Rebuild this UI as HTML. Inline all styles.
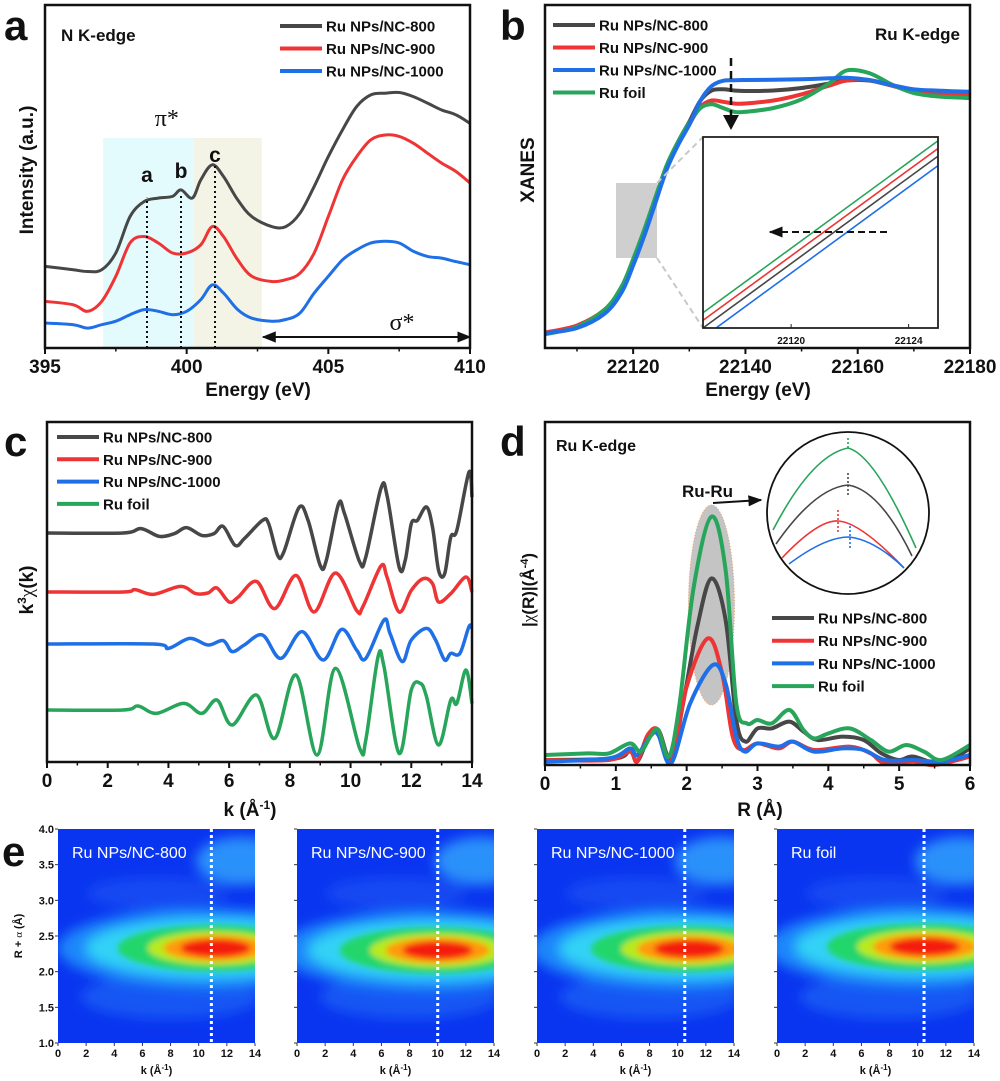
<!DOCTYPE html>
<html><head><meta charset="utf-8"><style>
html,body{margin:0;padding:0;background:#fff}
svg{display:block}
text{fill:#111}
</style></head><body>
<svg id="fig" width="1000" height="1081" viewBox="0 0 1000 1081" xmlns="http://www.w3.org/2000/svg">
<defs>
<filter id="blur6" x="-50%" y="-50%" width="200%" height="200%"><feGaussianBlur stdDeviation="6"/></filter>
<filter id="blur3" x="-50%" y="-50%" width="200%" height="200%"><feGaussianBlur stdDeviation="3"/></filter>
<marker id="arr" viewBox="0 0 10 10" refX="9" refY="5" markerWidth="7" markerHeight="7" orient="auto-start-reverse"><path d="M0,1 L10,5 L0,9 z" fill="#111"/></marker>
</defs>
</svg>
<script>
// ---------- DATA ----------
// panel a (N K-edge)
const aE800=[395,396,396.5,397,397.5,398,398.5,399,399.5,399.8,400.2,400.5,400.9,401.3,401.8,402.3,403,403.5,404,404.5,405,405.5,406,406.5,407,407.5,408,408.5,409,409.5,410];
const aI800=[0.238,0.228,0.223,0.228,0.277,0.383,0.427,0.437,0.442,0.461,0.437,0.490,0.534,0.500,0.432,0.383,0.354,0.354,0.393,0.471,0.558,0.636,0.704,0.738,0.743,0.745,0.733,0.714,0.694,0.680,0.655];
const aE=[395,396,396.5,397,397.5,398,398.5,399,399.5,400,400.5,400.9,401.3,401.8,402.3,403,403.5,404,404.5,405,405.5,406,406.5,407,407.5,408,408.5,409,409.5,410];
const aI900=[0.136,0.126,0.107,0.136,0.209,0.306,0.325,0.306,0.277,0.277,0.301,0.354,0.325,0.257,0.209,0.194,0.199,0.218,0.277,0.383,0.490,0.558,0.607,0.621,0.617,0.597,0.568,0.539,0.515,0.481];
const aI1000=[0.073,0.068,0.058,0.068,0.078,0.097,0.112,0.107,0.097,0.107,0.141,0.184,0.160,0.112,0.087,0.078,0.083,0.102,0.160,0.209,0.257,0.286,0.306,0.311,0.306,0.282,0.267,0.262,0.252,0.243];
const aTicks=[395,400,405,410];
const aPeakE=[398.6,399.8,401.0];
const aPeakLbl=['a','b','c'];
// panel b (Ru K-edge XANES)
const bE=[22104.3,22110,22115,22118,22120,22122,22124,22126,22128,22130,22132,22134,22136,22138,22140,22145,22150,22155,22158,22162,22166,22170,22175,22180];
const b800=[0.059,0.085,0.150,0.240,0.350,0.470,0.600,0.730,0.825,0.905,0.990,1.030,1.035,1.030,1.028,1.030,1.040,1.058,1.070,1.070,1.050,1.030,1.022,1.018];
const b900=[0.062,0.090,0.155,0.245,0.352,0.472,0.602,0.728,0.820,0.895,0.965,0.990,0.985,0.978,0.978,0.990,1.015,1.050,1.070,1.072,1.050,1.025,1.015,1.010];
const b1000=[0.059,0.080,0.139,0.225,0.330,0.450,0.583,0.715,0.812,0.893,0.990,1.048,1.069,1.071,1.072,1.073,1.075,1.079,1.081,1.072,1.052,1.035,1.029,1.025];
const bFoil=[0.055,0.085,0.155,0.248,0.355,0.475,0.605,0.732,0.825,0.900,0.960,0.975,0.960,0.945,0.945,0.960,0.995,1.060,1.110,1.100,1.055,1.020,1.005,1.000];
const bTicks=[22120,22140,22160,22180];
const insE=[22117,22125];
const ins800=[0.00,0.90];
const ins900=[0.04,0.94];
const ins1000=[-0.05,0.85];
const insFoil=[0.08,0.98];
const insTicks=[22120,22124];
// panel c (k3 chi)
const c800k=[0,2.5,3.1,3.7,4.2,4.6,5.1,5.5,5.8,6.2,6.5,7.1,7.3,7.6,7.8,8.3,8.6,9.0,9.2,9.6,9.8,10.3,10.5,11.0,11.2,11.6,11.8,12.0,12.2,12.5,12.7,12.9,13.1,13.3,13.5,13.9,14];
const c800=[0,0,0.22,-0.17,-0.03,0.27,-0.12,-0.03,0.33,-0.62,-0.28,0.63,0.47,-1.12,-0.95,1.27,0.63,-1.62,-1.37,1.43,0.97,-1.45,-1.2,2.22,1.88,-1.7,-1.37,0.47,0.63,1.3,0.3,-1.87,-2.03,-0.2,0.13,3.05,1.8];
const c900k=[0,2.5,2.9,3.5,4.4,4.9,5.3,5.6,6.0,6.3,6.9,7.5,8.2,8.8,9.5,10.2,10.4,11.0,11.2,11.6,12.0,12.4,12.7,12.9,13.3,13.8,14];
const c900=[0,0,0.12,-0.12,0.28,-0.08,-0.05,0.2,-0.5,-0.25,0.53,-0.83,0.83,-1.0,0.95,-0.92,-0.75,1.3,0.75,-1.0,0.08,0.67,0.42,-0.5,-0.08,0.75,0];
const c1000k=[0,3.5,4.0,4.7,5.3,5.8,6.1,6.5,7.1,7.7,8.4,9.1,9.7,10.2,10.5,11.1,11.3,11.7,12.0,12.5,12.8,13.1,13.3,13.6,13.9,14];
const c1000=[0,0,-0.22,0.28,-0.05,0.17,-0.38,-0.05,0.45,-0.72,0.62,-0.8,0.73,-0.3,-0.72,1.2,0.53,-0.88,0.2,0.78,0.2,-0.8,-0.47,-0.47,0.87,0.78];
const cFoilk=[0,2.5,3.0,3.6,4.5,5.1,5.6,6.1,6.9,7.5,8.2,8.9,9.5,10.3,10.5,10.9,11.1,11.6,12.0,12.3,12.5,12.9,13.3,13.5,13.8,14];
const cFoil=[0,0,0.2,-0.17,0.33,-0.17,0.5,-0.75,0.75,-1.42,1.75,-2.25,2.08,-1.92,-1.5,2.63,2.17,-2.17,1.0,1.33,0.67,-1.75,0.5,0.33,2.0,0.33];
const cOffsets=[11.45,8.5,5.9,2.6];
const cTicks=[0,2,4,6,8,10,12,14];
// panel d (FT)
const dFoilR=[0,0.6,0.9,1.2,1.35,1.5,1.6,1.75,1.9,2.1,2.35,2.55,2.7,2.85,3.0,3.2,3.45,3.65,3.8,4.0,4.3,4.6,4.85,5.1,5.35,5.6,6.0];
const dFoil=[0.5,0.58,0.58,1.08,0.67,1.5,1.75,0.42,3.08,8.92,12.42,9.75,3.08,2.08,2.25,2.08,2.75,1.75,1.33,1.58,1.83,1.25,0.67,1.0,0.67,0.25,1.0];
const d800R=[0,1.0,1.2,1.3,1.45,1.6,1.78,1.95,2.15,2.35,2.55,2.7,2.83,3.0,3.2,3.45,3.65,3.85,4.2,4.5,4.75,5.0,5.2,5.6,6.0];
const d800=[0.25,0.33,0.75,0.17,1.25,1.75,0.25,3.08,6.92,9.33,7.25,2.25,1.17,1.83,1.83,2.17,1.67,1.25,1.42,1.25,0.58,0.25,0.42,0.08,0.83];
const d900R=[0,0.9,1.2,1.3,1.45,1.6,1.78,2.0,2.3,2.5,2.65,2.8,3.0,3.3,3.5,3.8,4.3,4.6,4.8,5.2,5.5,6.0];
const d900=[0.25,0.25,0.67,0.17,1.5,1.75,0.17,3.92,6.33,4.58,1.42,0.75,1.08,0.83,1.17,0.75,0.92,0.58,0.08,0.17,0,0.42];
const d1000R=[0,0.9,1.2,1.3,1.5,1.6,1.78,2.05,2.37,2.55,2.7,2.82,3.0,3.3,3.5,3.8,4.2,4.5,4.8,5.2,5.6,6.0];
const d1000=[0.17,0.33,0.83,0.5,1.5,1.5,0.08,3.08,5.0,4.08,1.42,0.67,1.08,0.92,1.17,0.67,0.83,0.75,0.25,0.25,0.17,0.5];
const dTicks=[0,1,2,3,4,5,6];
// panel e (wavelet transforms)
const eNames=['Ru NPs/NC-800','Ru NPs/NC-900','Ru NPs/NC-1000','Ru foil'];
const ePeakK=[11.2,10.0,10.8,10.5];
const ePeakR=[2.33,2.3,2.32,2.35];
const eLineK=[10.9,10.0,10.5,10.45];
const eKTicks=[0,2,4,6,8,10,12,14];
const eRTicks=[1.0,1.5,2.0,2.5,3.0,3.5,4.0];

// ---------- HELPERS ----------
const NS='http://www.w3.org/2000/svg';
const svg=document.getElementById('fig');
function mk(tag,attrs,parent){const e=document.createElementNS(NS,tag);for(const k in attrs)e.setAttribute(k,attrs[k]);(parent||svg).appendChild(e);return e;}
function txt(s,x,y,size,anchor,parent,extra){const t=mk('text',Object.assign({x:x,y:y,'font-size':size,'text-anchor':anchor||'start','font-weight':'bold','font-family':'"Liberation Sans", Arial, sans-serif'},extra||{}),parent);t.textContent=s;return t;}
function scale(d0,d1,r0,r1){return v=>r0+(v-d0)/(d1-d0)*(r1-r0);}
function smooth(pts){let d='M'+pts[0][0].toFixed(1)+','+pts[0][1].toFixed(1);for(let i=0;i<pts.length-1;i++){const p0=pts[i-1]||pts[i],p1=pts[i],p2=pts[i+1],p3=pts[i+2]||p2;const c1=[p1[0]+(p2[0]-p0[0])/6,p1[1]+(p2[1]-p0[1])/6],c2=[p2[0]-(p3[0]-p1[0])/6,p2[1]-(p3[1]-p1[1])/6];d+=' C'+c1[0].toFixed(1)+','+c1[1].toFixed(1)+' '+c2[0].toFixed(1)+','+c2[1].toFixed(1)+' '+p2[0].toFixed(1)+','+p2[1].toFixed(1);}return d;}
function series(xs,ys,sx,sy,color,w,parent,name){const p=mk('path',{d:smooth(xs.map((x,i)=>[sx(x),sy(ys[i])])),fill:'none',stroke:color,'stroke-width':w,'stroke-linejoin':'round'},parent);


return p;}
const COL={k:'#474747',r:'#ee3434',b:'#1f6fe6',g:'#27a55a'};
function frame(x0,y0,x1,y1,name){const r=mk('rect',{x:x0,y:y0,width:x1-x0,height:y1-y0,fill:'none',stroke:'#111','stroke-width':2.5});


return r;}
function xTicks(vals,sx,y,size,minorStep,min,max,g,len){vals.forEach(v=>{mk('line',{x1:sx(v),x2:sx(v),y1:y,y2:y+(len||6),stroke:'#111','stroke-width':2},g);const t=txt(String(v),sx(v),y+size+6,size,'middle',g);

});
if(minorStep){for(let v=min;v<=max+1e-9;v+=minorStep){mk('line',{x1:sx(v),x2:sx(v),y1:y,y2:y+3.5,stroke:'#111','stroke-width':1.5},g);}}}
function legend(items,x,y,dy,g){items.forEach((it,i)=>{mk('line',{x1:x,x2:x+42,y1:y+i*dy,y2:y+i*dy,stroke:it[1],'stroke-width':4},g);const t=txt(it[0],x+46,y+i*dy+5.5,15,'start',g);

});}
const NAMES=['Ru NPs/NC-800','Ru NPs/NC-900','Ru NPs/NC-1000','Ru foil'];
const SERIF={'font-weight':'normal','font-family':'"Liberation Serif", serif'};

// ---------- PANEL A ----------
(function(){
const g=mk('g',{});
const sx=scale(395,410,45,470), sy=scale(0,1,348,5);
mk('rect',{x:sx(397.05),y:138,width:sx(400.25)-sx(397.05),height:348-138,fill:'#e4fbfd'},g);
mk('rect',{x:sx(400.25),y:138,width:sx(402.65)-sx(400.25),height:348-138,fill:'#f4f4e6'},g);
series(aE800,aI800,sx,sy,COL.k,3,g,'line-nc800');
series(aE,aI900,sx,sy,COL.r,3,g,'line-nc900');
series(aE,aI1000,sx,sy,COL.b,3,g,'line-nc1000');
const tops=[0.438,0.452,0.534];
aPeakE.forEach((e,i)=>{mk('line',{x1:sx(e),x2:sx(e),y1:348,y2:sy(tops[i]),stroke:'#111','stroke-width':2,'stroke-dasharray':'2,3'},g);
const t=txt(aPeakLbl[i],sx(e),[182,178,162][i],21,'middle',g);

});
txt('π*',sx(399.3),126,24,'middle',g,SERIF);
txt('σ*',sx(407.6),330,24,'middle',g,SERIF);
mk('line',{x1:sx(402.7),x2:sx(410),y1:337,y2:337,stroke:'#111','stroke-width':2,'marker-start':'url(#arr)','marker-end':'url(#arr)'},g);
frame(45,5,470,348,'plot-frame-a');
xTicks(aTicks,sx,348,19,2.5,395,410,g);
txt('Energy (eV)',258,396,19,'middle',g);
const yt=txt('Intensity (a.u.)',0,0,19,'middle',g,{transform:'translate(33,170) rotate(-90)'});

txt('N K-edge',61,41,17,'start',g);
legend([[NAMES[0],COL.k],[NAMES[1],COL.r],[NAMES[2],COL.b]],280,26,22.5,g);
txt('a',4,40,42,'start',g);
})();

// ---------- PANEL B ----------
(function(){
const g=mk('g',{});
const sx=scale(22104.3,22180,545,970), sy=scale(0,1,348,98);
mk('rect',{x:616,y:183,width:41,height:75,fill:'#cfcfcf'},g);
series(bE,b800,sx,sy,COL.k,4,g,'line-nc800');
series(bE,b900,sx,sy,COL.r,4,g,'line-nc900');
series(bE,bFoil,sx,sy,COL.g,4,g,'line-ru-foil');
series(bE,b1000,sx,sy,COL.b,4,g,'line-nc1000');
mk('line',{x1:657,y1:183,x2:703,y2:137,stroke:'#c8c8c8','stroke-width':2,'stroke-dasharray':'6,4'},g);
mk('line',{x1:657,y1:258,x2:703,y2:328,stroke:'#c8c8c8','stroke-width':2,'stroke-dasharray':'6,4'},g);
mk('line',{x1:731,y1:58,x2:731,y2:122,stroke:'#111','stroke-width':2.5,'stroke-dasharray':'8,5'},g);
mk('path',{d:'M723,115 L739,115 L731,130 z',fill:'#111'},g);
// inset
const ig=mk('g',{},g);
mk('rect',{x:703,y:137,width:235,height:191,fill:'#fff'},ig);
const cp=mk('clipPath',{id:'insclip'},ig);mk('rect',{x:703,y:137,width:235,height:191},cp);
const isx=scale(22117,22125,703,938), isy=scale(0,1,328,137);
const cg=mk('g',{'clip-path':'url(#insclip)'},ig);
[[ins1000,COL.b,'inset-line-nc1000'],[ins800,COL.k,'inset-line-nc800'],[ins900,COL.r,'inset-line-nc900'],[insFoil,COL.g,'inset-line-ru-foil']].forEach(s=>{const l=mk('line',{x1:isx(insE[0]),y1:isy(s[0][0]),x2:isx(insE[1]),y2:isy(s[0][1]),stroke:s[1],'stroke-width':1.6},cg);

});
mk('line',{x1:887,y1:232,x2:770,y2:232,stroke:'#111','stroke-width':2,'stroke-dasharray':'7,4','marker-end':'url(#arr)'},ig);
mk('rect',{x:703,y:137,width:235,height:191,fill:'none',stroke:'#222','stroke-width':1.8},ig);
insTicks.forEach(v=>{mk('line',{x1:isx(v),x2:isx(v),y1:328,y2:324,stroke:'#222'},ig);txt(String(v),isx(v),344,10,'middle',ig);});
frame(545,5,970,348,'plot-frame-b');
xTicks(bTicks,sx,348,19,10,22110,22180,g);
txt('Energy (eV)',758,396,19,'middle',g);
txt('XANES',0,0,19,'middle',g,{transform:'translate(534,170) rotate(-90)'});
txt('Ru K-edge',960,40,17,'end',g);
legend([[NAMES[0],COL.k],[NAMES[1],COL.r],[NAMES[2],COL.b],[NAMES[3],COL.g]],553,25,22.5,g);
txt('b',500,40,42,'start',g);
})();

// ---------- PANEL C ----------
(function(){
const g=mk('g',{});
const sx=scale(0,14,47,472), sy=scale(0,1,762,742);
const S=[[c800k,c800,COL.k,'line-nc800'],[c900k,c900,COL.r,'line-nc900'],[c1000k,c1000,COL.b,'line-nc1000'],[cFoilk,cFoil,COL.g,'line-ru-foil']];
S.forEach((s,i)=>series(s[0],s[1].map(v=>v+cOffsets[i]),sx,sy,s[2],3.5,g,s[3]));
frame(47,422,472,762,'plot-frame-c');
xTicks(cTicks,sx,762,19,1,0,14,g);
txt('',250,816,19,'middle',g).innerHTML='k (Å<tspan dy="-7" font-size="12">-1</tspan><tspan dy="7">)</tspan>';
txt('',0,0,19,'middle',g,{transform:'translate(33,590) rotate(-90)'}).innerHTML='k<tspan dy="-7" font-size="12">3</tspan><tspan dy="7" font-weight="normal" font-family="Liberation Serif, serif">χ</tspan>(k)';
legend([[NAMES[0],COL.k],[NAMES[1],COL.r],[NAMES[2],COL.b],[NAMES[3],COL.g]],57,437,22.3,g);
txt('c',4,456,42,'start',g);
})();

// ---------- PANEL D ----------
(function(){
const g=mk('g',{});
const sx=scale(0,6,545,970), sy=scale(0,1,765,745);
mk('ellipse',{cx:sx(2.35),cy:605,rx:23,ry:100,fill:'#c4c4c4',stroke:'#f0a060','stroke-width':1,'stroke-dasharray':'1,2'},g);
series(d800R,d800,sx,sy,COL.k,4,g,'line-nc800');
series(d900R,d900,sx,sy,COL.r,4,g,'line-nc900');
series(d1000R,d1000,sx,sy,COL.b,4,g,'line-nc1000');
series(dFoilR,dFoil,sx,sy,COL.g,4,g,'line-ru-foil');
const ig=mk('g',{},g);
mk('circle',{cx:848,cy:513,r:81,fill:'#fff',stroke:'#111','stroke-width':1.8},ig);
mk('path',{d:'M773,530 Q812,455 848,448 Q875,455 916,548',fill:'none',stroke:COL.g,'stroke-width':1.6},ig);
mk('path',{d:'M776,544 Q815,488 848,485 Q880,490 912,556',fill:'none',stroke:COL.k,'stroke-width':1.6},ig);
mk('path',{d:'M782,558 Q818,520 838,521 Q860,522 904,568',fill:'none',stroke:COL.r,'stroke-width':1.6},ig);
mk('path',{d:'M789,564 Q825,537 849,537 Q875,540 904,568',fill:'none',stroke:COL.b,'stroke-width':1.6},ig);
[[848,438,448,COL.g],[848,473,497,COL.k],[838,510,532,COL.r],[850,526,550,COL.b]].forEach(a=>mk('line',{x1:a[0],x2:a[0],y1:a[1],y2:a[2],stroke:a[3],'stroke-width':1.6,'stroke-dasharray':'2,2'},ig));
txt('Ru-Ru',682,497,17,'start',g);
mk('line',{x1:713,y1:503,x2:761,y2:500,stroke:'#111','stroke-width':2,'marker-end':'url(#arr)'},g);
frame(545,422,970,765,'plot-frame-d');
xTicks(dTicks,sx,765,19,0.5,0,6,g);
txt('R (Å)',760,816,19,'middle',g);
txt('',0,0,17,'middle',g,{transform:'translate(534,590) rotate(-90)'}).innerHTML='|<tspan font-weight="normal" font-family="Liberation Serif, serif">χ</tspan>(R)|(Å<tspan dy="-6" font-size="11">-4</tspan><tspan dy="6">)</tspan>';
txt('Ru K-edge',556,451,16,'start',g);
legend([[NAMES[0],COL.k],[NAMES[1],COL.r],[NAMES[2],COL.b],[NAMES[3],COL.g]],772,618,22.7,g);
txt('d',500,456,42,'start',g);
})();

// ---------- PANEL E ----------
(function(){
const g=mk('g',{});
const mapX=[58,297,537,777], W=197, top=829, bot=1043;
const sy=scale(1,4,bot,top);
eNames.forEach((nm,i)=>{
  const mg=mk('g',{},g);
  
  
  const sx=scale(0,14,mapX[i],mapX[i]+W);
  const cid='ec'+i;const cp=mk('clipPath',{id:cid},mg);mk('rect',{x:mapX[i],y:top,width:W,height:bot-top},cp);
  const cg=mk('g',{'clip-path':'url(#'+cid+')'},mg);
  mk('rect',{x:mapX[i],y:top,width:W,height:bot-top,fill:'#0a35f0'},cg);
  const bg=mk('g',{filter:'url(#blur6)'},cg);
  mk('ellipse',{cx:sx(13),cy:sy(3.55),rx:45,ry:24,fill:'#2a90fa'},bg);
  mk('ellipse',{cx:sx(8),cy:sy(1.65),rx:90,ry:22,fill:'#1656f4'},bg);
  mk('ellipse',{cx:sx(7),cy:sy(3.1),rx:70,ry:16,fill:'#1248f2'},bg);
  const cx=sx(ePeakK[i]), cy=sy(ePeakR[i]);
  mk('ellipse',{cx:cx-8,cy:cy,rx:150,ry:40,fill:'#1f86fa'},bg);
  mk('ellipse',{cx:cx-5,cy:cy,rx:125,ry:30,fill:'#33d2f6'},bg);
  const hg=mk('g',{filter:'url(#blur3)'},cg);
  mk('ellipse',{cx:cx-3,cy:cy,rx:95,ry:23,fill:'#22d66c'},hg);
  mk('ellipse',{cx:cx,cy:cy,rx:68,ry:17,fill:'#b8ea1a'},hg);
  mk('ellipse',{cx:cx,cy:cy,rx:52,ry:13,fill:'#ff9a10'},hg);
  mk('ellipse',{cx:cx,cy:cy,rx:35,ry:9,fill:'#f41c0c'},hg);
  const dl=mk('line',{x1:sx(eLineK[i]),x2:sx(eLineK[i]),y1:top,y2:bot,stroke:'#fff','stroke-width':3,'stroke-dasharray':'3,3'},mg);
  
  
  const t=txt(nm,mapX[i]+14,858,16,'start',mg,{'font-weight':'normal','style':'fill:#fff'});
  
  
  eKTicks.forEach(k=>{mk('line',{x1:sx(k),x2:sx(k),y1:bot,y2:bot+3,stroke:'#333'},mg);txt(String(k),sx(k),bot+14,11,'middle',mg);});
  eRTicks.forEach(r=>mk('line',{x1:mapX[i]-3,x2:mapX[i],y1:sy(r),y2:sy(r),stroke:'#333'},mg));
  txt('',mapX[i]+W/2,1074,11,'middle',mg).innerHTML='k (Å<tspan dy="-4" font-size="8">-1</tspan><tspan dy="4">)</tspan>';
});
eRTicks.forEach(r=>txt(r.toFixed(1),54,sy(r)+4,11,'end',g));
txt('',0,0,11,'middle',g,{transform:'translate(22,936) rotate(-90)'}).innerHTML='R + <tspan font-weight="normal" font-family="Liberation Serif, serif">α</tspan> (Å)';
txt('e',2,866,42,'start',g);
})();
</script>
</body></html>
